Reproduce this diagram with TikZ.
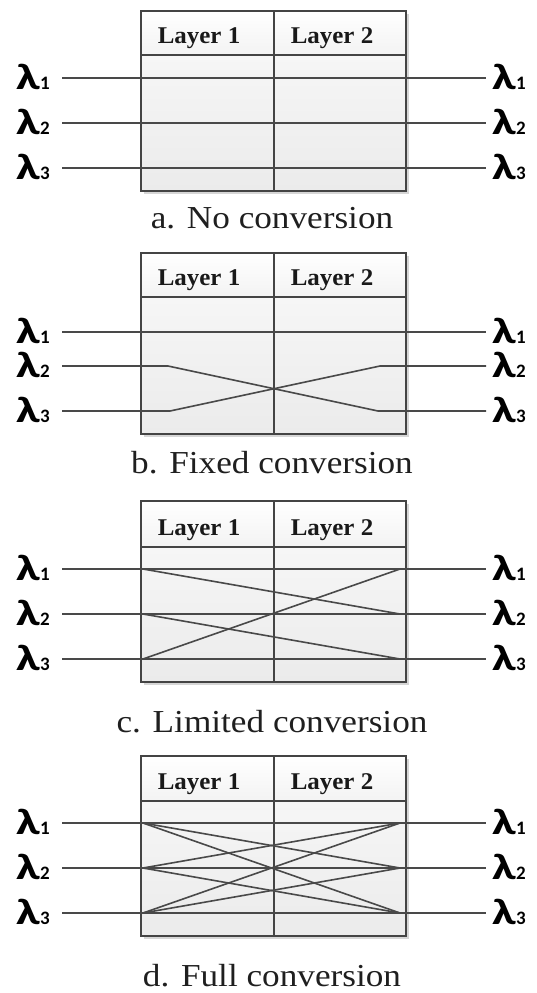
\documentclass[tikz,border=0pt]{standalone}
\usepackage{fontspec}
\setmainfont{Liberation Serif}
\newfontfamily\lamfont{Carlito}

\definecolor{wirec}{HTML}{494949}
\definecolor{framec}{HTML}{444444}
\definecolor{headtop}{HTML}{FFFFFF}
\definecolor{headbot}{HTML}{F3F3F3}
\definecolor{bodytop}{HTML}{F6F6F6}
\definecolor{bodybot}{HTML}{EBEBEB}
\definecolor{shadowc}{HTML}{D6D6D6}

\tikzset{
  wire/.style={draw=wirec, line width=1.6pt},
  frame/.style={draw=framec, line width=1.7pt},
  layerlabel/.style={font=\fontsize{24}{28}\selectfont\bfseries, text=black!90,
    anchor=base, inner sep=0pt},
  captionlabel/.style={font=\fontsize{32}{36}\selectfont, text=black!88,
    anchor=base, inner sep=0pt, text depth=0pt},
  lamlabel/.style={font=\lamfont\fontsize{35}{40}\selectfont\bfseries, text=black,
    anchor=base west, inner sep=0pt, text height=24pt, text depth=0pt},
}

% wavelength label: bold lambda with a small index
\newcommand{\lamtext}[1]{\scalebox{1.4}[1.05]{λ}{\fontsize{19}{22}\selectfont\bfseries #1}}

% one converter block: #1 name, #2 top, #3 header bottom,
% #4/#5/#6 wavelength rows, #7 block bottom
\newcommand{\convpanel}[7]{%
  \fill[shadowc] (143.5,#2+2.5) rectangle (408.5,#7+2.5);
  \shade[top color=headtop, bottom color=headbot] (141,#2) rectangle (406,#3);
  \shade[top color=bodytop, bottom color=bodybot] (141,#3) rectangle (406,#7);
  \draw[frame] (141,#2) rectangle (406,#7);
  \draw[frame] (141,#3) -- (406,#3);
  \draw[frame] (274,#2) -- (274,#7);
  \node[layerlabel] (#1-h1) at (199,#3-12) {\scalebox{1.04}[1]{Layer 1}};
  \node[layerlabel] (#1-h2) at (332,#3-12) {\scalebox{1.04}[1]{Layer 2}};
  \node[lamlabel] (#1-L1) at (16,#4+11) {\lamtext{1}};
  \node[lamlabel] (#1-L2) at (16,#5+11) {\lamtext{2}};
  \node[lamlabel] (#1-L3) at (16,#6+11) {\lamtext{3}};
  \node[lamlabel] (#1-R1) at (492,#4+11) {\lamtext{1}};
  \node[lamlabel] (#1-R2) at (492,#5+11) {\lamtext{2}};
  \node[lamlabel] (#1-R3) at (492,#6+11) {\lamtext{3}};
  \coordinate (#1-s1) at (62,#4);  \coordinate (#1-e1) at (486,#4);
  \coordinate (#1-s2) at (62,#5);  \coordinate (#1-e2) at (486,#5);
  \coordinate (#1-s3) at (62,#6);  \coordinate (#1-e3) at (486,#6);
  \coordinate (#1-p1) at (143,#4); \coordinate (#1-q1) at (400,#4);
  \coordinate (#1-p2) at (143,#5); \coordinate (#1-q2) at (400,#5);
  \coordinate (#1-p3) at (143,#6); \coordinate (#1-q3) at (400,#6);
}

\begin{document}
\begin{tikzpicture}[x=1pt,y=-1pt]
\useasboundingbox (0,0) rectangle (536,993);

% a. no conversion
\convpanel{a}{11}{55}{78}{123}{168}{191}
\draw[wire] (a-s1) -- (a-e1);
\draw[wire] (a-s2) -- (a-e2);
\draw[wire] (a-s3) -- (a-e3);
\node[captionlabel] (a-cap) at (272,228) {\scalebox{1.1}[1]{a. No conversion}};

% b. fixed conversion
\convpanel{b}{253}{297}{332}{366}{411}{434}
\coordinate (b-bl2) at (168,366);
\coordinate (b-bl3) at (170,411);
\coordinate (b-br2) at (380,366);
\coordinate (b-br3) at (378,411);
\draw[wire] (b-s1) -- (b-e1);
\draw[wire] (b-s2) -- (b-bl2) -- (b-br3) -- (b-e3);
\draw[wire] (b-s3) -- (b-bl3) -- (b-br2) -- (b-e2);
\node[captionlabel] (b-cap) at (272,473) {\scalebox{1.1}[1]{b. Fixed conversion}};

% c. limited conversion
\convpanel{c}{501}{547}{569}{614}{659}{682}
\draw[wire] (c-s1) -- (c-e1);
\draw[wire] (c-s2) -- (c-e2);
\draw[wire] (c-s3) -- (c-e3);
\draw[wire] (c-p1) -- (c-q2);
\draw[wire] (c-p2) -- (c-q3);
\draw[wire] (c-p3) -- (c-q1);
\node[captionlabel] (c-cap) at (272,732) {\scalebox{1.1}[1]{c. Limited conversion}};

% d. full conversion
\convpanel{d}{756}{801}{823}{868}{913}{936}
\draw[wire] (d-s1) -- (d-e1);
\draw[wire] (d-s2) -- (d-e2);
\draw[wire] (d-s3) -- (d-e3);
\draw[wire] (d-p1) -- (d-q2);
\draw[wire] (d-p1) -- (d-q3);
\draw[wire] (d-p2) -- (d-q1);
\draw[wire] (d-p2) -- (d-q3);
\draw[wire] (d-p3) -- (d-q1);
\draw[wire] (d-p3) -- (d-q2);
\node[captionlabel] (d-cap) at (272,986) {\scalebox{1.1}[1]{d. Full conversion}};
\end{tikzpicture}
\end{document}
